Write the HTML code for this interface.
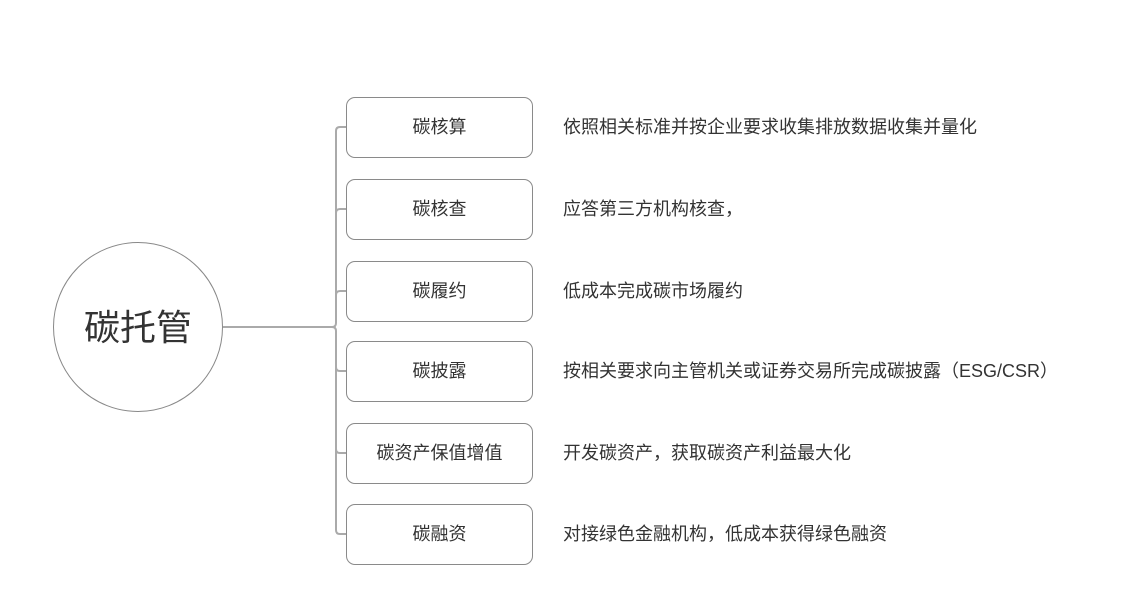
<!DOCTYPE html>
<html><head><meta charset="utf-8"><style>
body{margin:0;width:1132px;height:604px;background:#fff;position:relative;font-family:"Liberation Sans","Noto Sans CJK SC",sans-serif;color:#333;overflow:hidden}
.b{position:absolute;left:346px;width:185px;height:59px;border:1px solid #8a8a8a;border-radius:9px;display:flex;align-items:center;justify-content:center;font-size:18px;box-sizing:content-box;padding-bottom:3px;height:56px}
.d{position:absolute;left:563px;font-size:18px;line-height:20px;white-space:nowrap}
</style></head><body>
<svg width="1132" height="604" style="position:absolute;left:0;top:0">
<circle cx="138" cy="327" r="84.5" fill="none" stroke="#888" stroke-width="1"/>
<g fill="none" stroke="#aaa" stroke-width="2">
<path d="M223 327 H332 Q336 327 336 323 V131 Q336 127 340 127 H346"/>
<path d="M336 323 V213 Q336 209 340 209 H346"/>
<path d="M336 295 Q336 291 340 291 H346"/>
<path d="M336 331 V367 Q336 371 340 371 H346"/>
<path d="M336 331 V449 Q336 453 340 453 H346"/>
<path d="M332 327 Q336 327 336 331 V530 Q336 534 340 534 H346"/>
</g>
<text x="138" y="340" text-anchor="middle" font-size="36" fill="#333" font-family="Liberation Sans, Noto Sans CJK SC, sans-serif">碳托管</text>
</svg>
<div class="b" style="top:97px">碳核算</div>
<div class="b" style="top:179px">碳核查</div>
<div class="b" style="top:261px">碳履约</div>
<div class="b" style="top:341px">碳披露</div>
<div class="b" style="top:423px">碳资产保值增值</div>
<div class="b" style="top:504px">碳融资</div>
<div class="d" style="top:117px">依照相关标准并按企业要求收集排放数据收集并量化</div>
<div class="d" style="top:199px">应答第三方机构核查，</div>
<div class="d" style="top:281px">低成本完成碳市场履约</div>
<div class="d" style="top:361px">按相关要求向主管机关或证券交易所完成碳披露（ESG/CSR）</div>
<div class="d" style="top:443px">开发碳资产，获取碳资产利益最大化</div>
<div class="d" style="top:524px">对接绿色金融机构，低成本获得绿色融资</div>
</body></html>
